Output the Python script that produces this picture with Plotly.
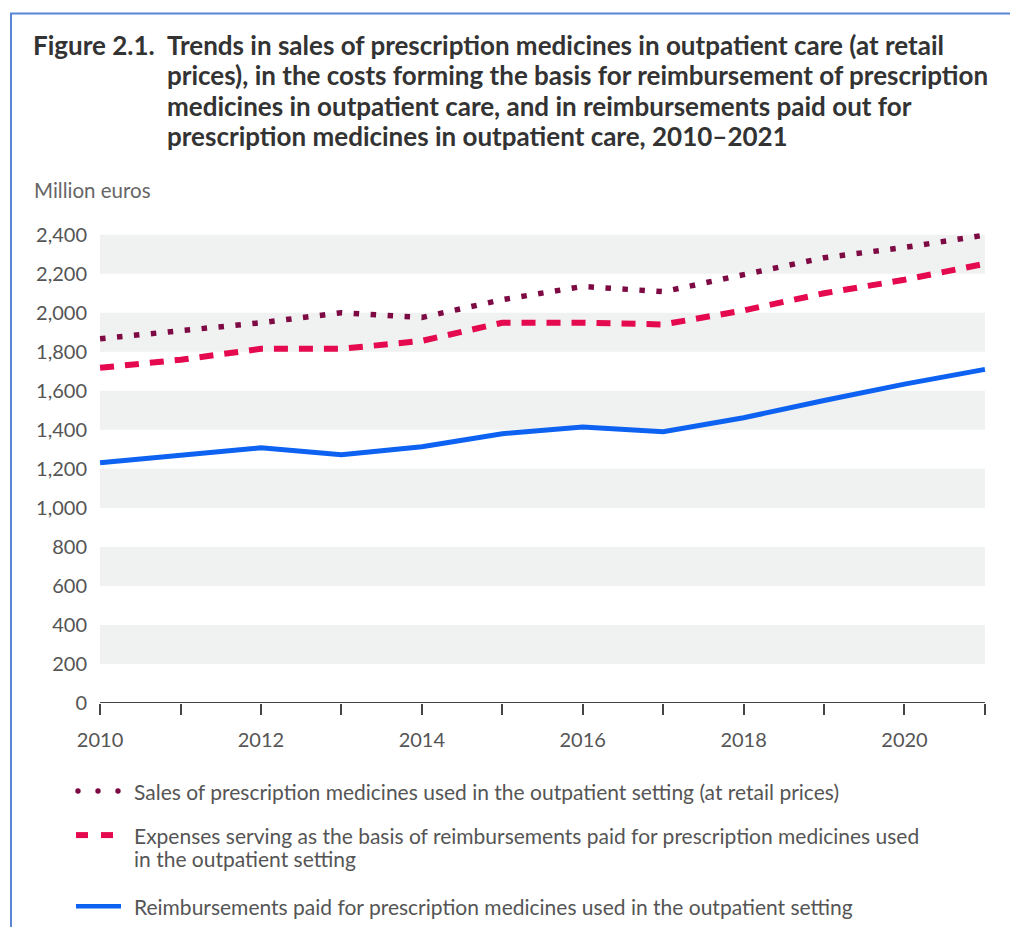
import plotly.graph_objects as go

years = list(range(2010, 2022))
sales = [1867, 1910, 1949, 2000, 1976, 2067, 2135, 2108, 2192, 2282, 2335, 2398]
expenses = [1718, 1759, 1815, 1815, 1856, 1949, 1949, 1940, 2012, 2100, 2169, 2251]
reimbursements = [1231, 1272, 1308, 1272, 1313, 1380, 1415, 1390, 1462, 1550, 1634, 1710]

y_ticks = list(range(0, 2401, 200))
x_tick_labels = [str(y) if y % 2 == 0 else "" for y in years]

legend_labels = [
    "Sales of prescription medicines used in the outpatient setting (at retail prices)",
    "Expenses serving as the basis of reimbursements paid for prescription medicines used",
    "in the outpatient setting",
    "Reimbursements paid for prescription medicines used in the outpatient setting",
]
title_left = "Figure 2.1."
title_lines = [
    "Trends in sales of prescription medicines in outpatient care (at retail",
    "prices), in the costs forming the basis for reimbursement of prescription",
    "medicines in outpatient care, and in reimbursements paid out for",
    "prescription medicines in outpatient care, 2010\u20132021",
]

W, H = 1018, 927
OFF = 8  # page body margin
L, R, T, B = 88 - OFF, 997 - OFF, 223.3 - OFF, 703 - OFF
FONT = "Lato"

def px(x):
    return (x - OFF - L) / (R - L)

def py(y):
    return (B - (y - OFF)) / (B - T)

fig = go.Figure()
fig.add_trace(go.Scatter(x=years, y=sales, mode="lines",
                         line=dict(color="#7d0a43", width=5.5, dash="5.5px,11.5px"),
                         showlegend=False, name="Sales"))
fig.add_trace(go.Scatter(x=years, y=expenses, mode="lines",
                         line=dict(color="#e5094f", width=6, dash="14px,11px"),
                         showlegend=False, name="Expenses"))
fig.add_trace(go.Scatter(x=years, y=reimbursements, mode="lines",
                         line=dict(color="#0d62f2", width=5),
                         showlegend=False, name="Reimbursements"))

shapes = []
for i in range(1, len(y_ticks) - 1, 2):
    shapes.append(dict(type="rect", xref="x", yref="y", x0=years[0], x1=years[-1],
                       y0=y_ticks[i], y1=y_ticks[i + 1], fillcolor="#f0f1f1",
                       line=dict(width=0), layer="below"))
shapes.append(dict(type="line", xref="x", yref="y", x0=years[0], x1=years[-1], y0=0, y1=0,
                   line=dict(color="#444444", width=2)))
shapes.append(dict(type="line", xref="paper", yref="paper", x0=px(11), x1=px(11),
                   y0=py(14), y1=py(940), line=dict(color="#5b86d6", width=2)))
shapes.append(dict(type="line", xref="paper", yref="paper", x0=px(10), x1=px(1030),
                   y0=py(14), y1=py(14), line=dict(color="#5b86d6", width=2)))
for cx in (78, 98, 118):
    shapes.append(dict(type="circle", xref="paper", yref="paper",
                       x0=px(cx - 2.7), x1=px(cx + 2.7), y0=py(791 + 2.7), y1=py(791 - 2.7),
                       fillcolor="#7d0a43", line=dict(width=0)))
for x0 in (76, 101):
    shapes.append(dict(type="rect", xref="paper", yref="paper",
                       x0=px(x0), x1=px(x0 + 12), y0=py(838), y1=py(832),
                       fillcolor="#e5094f", line=dict(width=0)))
shapes.append(dict(type="line", xref="paper", yref="paper", x0=px(76), x1=px(121),
                   y0=py(906), y1=py(906), line=dict(color="#0d62f2", width=4.5)))

annotations = []
annotations.append(dict(text="<b>" + title_left + "</b>", x=px(31), y=py(45), xref="paper",
                        yref="paper", xanchor="left", yanchor="middle", showarrow=False,
                        font=dict(family=FONT, size=26, color="#333333")))
for i, t in enumerate(title_lines):
    annotations.append(dict(text="<b>" + t + "</b>", x=px(165), y=py(45 + i * 30.5),
                            xref="paper", yref="paper", xanchor="left", yanchor="middle",
                            showarrow=False, font=dict(family=FONT, size=26, color="#333333")))
annotations.append(dict(text="Million euros", x=px(32), y=py(190), xref="paper", yref="paper",
                        xanchor="left", yanchor="middle", showarrow=False,
                        font=dict(family=FONT, size=20.5, color="#666666")))
for txt, yy in zip(legend_labels, (791, 835, 858, 906)):
    annotations.append(dict(text=txt, x=px(132), y=py(yy), xref="paper", yref="paper",
                            xanchor="left", yanchor="middle", showarrow=False,
                            font=dict(family=FONT, size=21, color="#555555")))

fig.update_layout(
    width=W, height=H,
    margin=dict(l=L, r=W - R, t=T, b=H - B, pad=0),
    paper_bgcolor="white", plot_bgcolor="white",
    font=dict(family=FONT, color="#555555"),
    shapes=shapes, annotations=annotations,
    xaxis=dict(range=[2009.85, 2021.15], tickvals=years, ticktext=x_tick_labels,
               ticks="outside", ticklen=11, tickwidth=1.5, tickcolor="#444444",
               ticklabelstandoff=8,
               showgrid=False, zeroline=False, showline=False,
               tickfont=dict(family=FONT, size=20, color="#555555"), fixedrange=True),
    yaxis=dict(range=[0, 2460], tickvals=y_ticks, tickformat=",", showgrid=False,
               zeroline=False, showline=False, ticks="",
               tickfont=dict(family=FONT, size=20, color="#555555"), fixedrange=True),
)

fig.write_html("out.html")
